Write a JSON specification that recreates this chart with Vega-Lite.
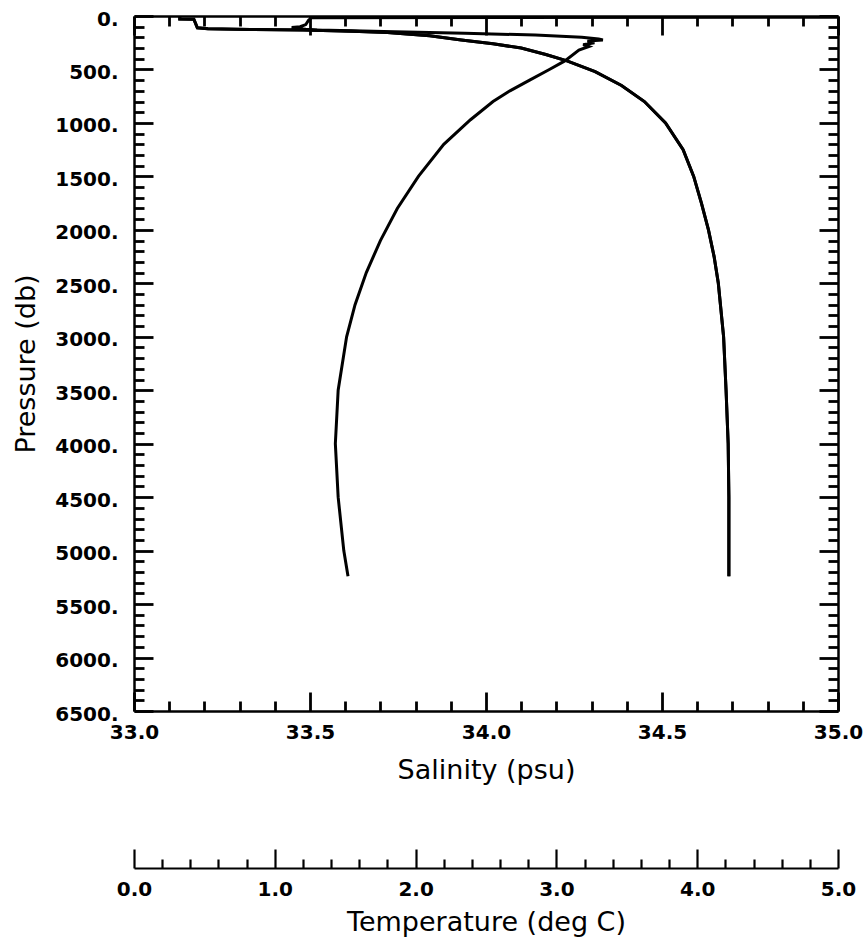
{
  "$schema": "https://vega.github.io/schema/vega-lite/v6.json",
  "width": 704,
  "height": 695,
  "autosize": {"type": "none"},
  "padding": {"left": 134, "top": 16, "right": 29, "bottom": 232},
  "background": "white",
  "config": {
    "view": {"stroke": null},
    "axis": {
      "domainColor": "black",
      "domainWidth": 2.5,
      "tickColor": "black",
      "tickWidth": 2.8,
      "grid": false,
      "labelFont": "DejaVu Sans",
      "labelFontWeight": "bold",
      "labelFontSize": 20,
      "labelColor": "black",
      "labelOverlap": false,
      "labelFlush": false,
      "labelBound": false,
      "titleFont": "DejaVu Sans",
      "titleFontWeight": "normal",
      "titleFontSize": 27,
      "titleColor": "black"
    }
  },
  "datasets": {
    "sal": [
      {"p": 0, "s": 33.13}, {"p": 28, "s": 33.13}, {"p": 30, "s": 33.17}, {"p": 110, "s": 33.18},
      {"p": 120, "s": 33.21}, {"p": 126, "s": 33.33}, {"p": 132, "s": 33.48}, {"p": 142, "s": 33.62},
      {"p": 155, "s": 33.72}, {"p": 185, "s": 33.84}, {"p": 224, "s": 33.93}, {"p": 260, "s": 34.02},
      {"p": 300, "s": 34.10}, {"p": 360, "s": 34.17}, {"p": 420, "s": 34.23}, {"p": 520, "s": 34.31},
      {"p": 650, "s": 34.385}, {"p": 800, "s": 34.45}, {"p": 1000, "s": 34.51}, {"p": 1250, "s": 34.56},
      {"p": 1500, "s": 34.59}, {"p": 1750, "s": 34.612}, {"p": 2000, "s": 34.632}, {"p": 2250, "s": 34.648},
      {"p": 2500, "s": 34.66}, {"p": 3000, "s": 34.675}, {"p": 3500, "s": 34.682}, {"p": 4000, "s": 34.688},
      {"p": 4500, "s": 34.69}, {"p": 5240, "s": 34.69}
    ],
    "temp": [
      {"p": 0, "t": 8.0}, {"p": 10, "t": 6.0}, {"p": 16, "t": 1.26}, {"p": 40, "t": 1.24},
      {"p": 80, "t": 1.22}, {"p": 100, "t": 1.18}, {"p": 108, "t": 1.12}, {"p": 116, "t": 1.15},
      {"p": 124, "t": 1.22}, {"p": 130, "t": 1.30}, {"p": 138, "t": 1.55}, {"p": 148, "t": 1.85},
      {"p": 162, "t": 2.35}, {"p": 178, "t": 2.85}, {"p": 198, "t": 3.18}, {"p": 215, "t": 3.30},
      {"p": 225, "t": 3.33}, {"p": 235, "t": 3.22}, {"p": 250, "t": 3.27}, {"p": 268, "t": 3.19},
      {"p": 285, "t": 3.23}, {"p": 318, "t": 3.16}, {"p": 420, "t": 3.06}, {"p": 500, "t": 2.95},
      {"p": 600, "t": 2.81}, {"p": 700, "t": 2.67}, {"p": 800, "t": 2.55}, {"p": 970, "t": 2.39},
      {"p": 1200, "t": 2.20}, {"p": 1500, "t": 2.02}, {"p": 1800, "t": 1.87}, {"p": 2100, "t": 1.75},
      {"p": 2400, "t": 1.65}, {"p": 2700, "t": 1.57}, {"p": 3000, "t": 1.51}, {"p": 3500, "t": 1.45},
      {"p": 4000, "t": 1.43}, {"p": 4500, "t": 1.45}, {"p": 5000, "t": 1.49}, {"p": 5240, "t": 1.52}
    ]
  },
  "layer": [
    {
      "data": {"name": "sal"},
      "mark": {"type": "line", "color": "black", "strokeWidth": 3, "clip": true},
      "encoding": {
        "x": {
          "field": "s", "type": "quantitative",
          "scale": {"domain": [33, 35], "nice": false, "zero": false},
          "axis": {
            "orient": "bottom",
            "values": [33, 33.1, 33.2, 33.3, 33.4, 33.5, 33.6, 33.7, 33.8, 33.9, 34, 34.1, 34.2, 34.3, 34.4, 34.5, 34.6, 34.7, 34.8, 34.9, 35],
            "labelExpr": "round(datum.value*10) % 5 === 0 ? format(datum.value, '.1f') : ''",
            "tickSize": {"condition": {"test": "round(datum.value*10) % 5 === 0", "value": -19}, "value": -10},
            "labelPadding": 30,
            "title": "Salinity (psu)",
            "titlePadding": 6
          }
        },
        "y": {
          "field": "p", "type": "quantitative",
          "scale": {"domain": [0, 6500], "reverse": true, "nice": false, "zero": false},
          "axis": {
            "orient": "left",
            "values": [0,100,200,300,400,500,600,700,800,900,1000,1100,1200,1300,1400,1500,1600,1700,1800,1900,2000,2100,2200,2300,2400,2500,2600,2700,2800,2900,3000,3100,3200,3300,3400,3500,3600,3700,3800,3900,4000,4100,4200,4300,4400,4500,4600,4700,4800,4900,5000,5100,5200,5300,5400,5500,5600,5700,5800,5900,6000,6100,6200,6300,6400,6500],
            "labelExpr": "datum.value % 500 === 0 ? datum.value + '.' : ''",
            "tickSize": {"condition": {"test": "datum.value % 500 === 0", "value": -19}, "value": -10},
            "labelPadding": 35,
            "labelOffset": 3,
            "title": "Pressure (db)",
            "titlePadding": 14
          }
        },
        "order": {"field": "p", "type": "quantitative"}
      }
    },
    {
      "data": {"name": "temp"},
      "mark": {"type": "line", "color": "black", "strokeWidth": 3, "clip": true},
      "encoding": {
        "x": {
          "field": "t", "type": "quantitative",
          "scale": {"domain": [0, 5], "nice": false, "zero": false},
          "axis": {
            "orient": "bottom",
            "offset": 157,
            "values": [0, 0.2, 0.4, 0.6, 0.8, 1, 1.2, 1.4, 1.6, 1.8, 2, 2.2, 2.4, 2.6, 2.8, 3, 3.2, 3.4, 3.6, 3.8, 4, 4.2, 4.4, 4.6, 4.8, 5],
            "labelExpr": "round(datum.value*10) % 10 === 0 ? format(datum.value, '.1f') : ''",
            "tickSize": {"condition": {"test": "round(datum.value*10) % 10 === 0", "value": -19}, "value": -9},
            "domainWidth": 2,
            "tickWidth": 2.2,
            "labelPadding": 30,
            "title": "Temperature (deg C)",
            "titlePadding": 0
          }
        },
        "y": {
          "field": "p", "type": "quantitative",
          "scale": {"domain": [0, 6500], "reverse": true, "nice": false, "zero": false},
          "axis": null
        },
        "order": {"field": "p", "type": "quantitative"}
      }
    },
    {
      "data": {"name": "sal"},
      "mark": {"type": "line", "color": "black", "strokeWidth": 3, "clip": true},
      "encoding": {
        "x": {
          "field": "s", "type": "quantitative",
          "scale": {"domain": [33, 35], "nice": false, "zero": false},
          "axis": {
            "orient": "top",
            "values": [33, 33.1, 33.2, 33.3, 33.4, 33.5, 33.6, 33.7, 33.8, 33.9, 34, 34.1, 34.2, 34.3, 34.4, 34.5, 34.6, 34.7, 34.8, 34.9, 35],
            "labels": false,
            "title": null,
            "tickSize": {"condition": {"test": "round(datum.value*10) % 5 === 0", "value": -19}, "value": -10}
          }
        },
        "y": {
          "field": "p", "type": "quantitative",
          "scale": {"domain": [0, 6500], "reverse": true, "nice": false, "zero": false},
          "axis": {
            "orient": "right",
            "values": [0,100,200,300,400,500,600,700,800,900,1000,1100,1200,1300,1400,1500,1600,1700,1800,1900,2000,2100,2200,2300,2400,2500,2600,2700,2800,2900,3000,3100,3200,3300,3400,3500,3600,3700,3800,3900,4000,4100,4200,4300,4400,4500,4600,4700,4800,4900,5000,5100,5200,5300,5400,5500,5600,5700,5800,5900,6000,6100,6200,6300,6400,6500],
            "labels": false,
            "title": null,
            "tickSize": {"condition": {"test": "datum.value % 500 === 0", "value": -19}, "value": -10}
          }
        },
        "order": {"field": "p", "type": "quantitative"}
      }
    }
  ],
  "resolve": {
    "scale": {"x": "independent", "y": "independent"},
    "axis": {"x": "independent", "y": "independent"}
  }
}
